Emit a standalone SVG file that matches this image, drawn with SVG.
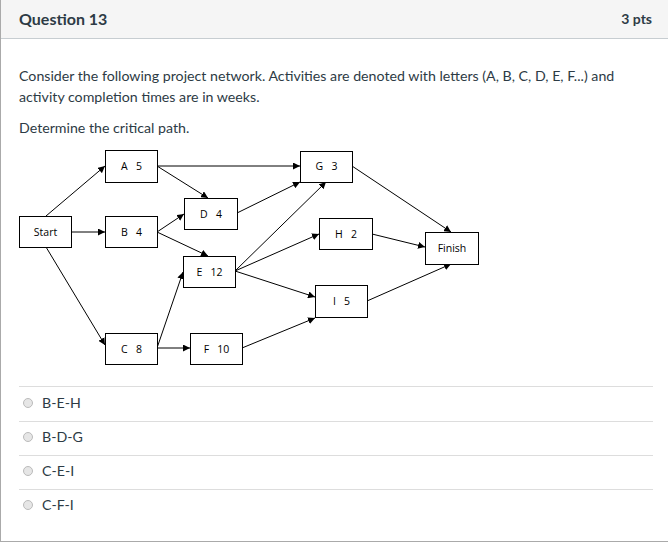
<svg xmlns="http://www.w3.org/2000/svg" width="668" height="542" viewBox="0 0 668 542">
<defs>
<marker id="ah" viewBox="0 0 10 10" refX="10" refY="5" markerWidth="7" markerHeight="7" markerUnits="userSpaceOnUse" orient="auto"><path d="M0,0 L10,5 L0,10 z" fill="#000"/></marker>
</defs>
<style>
.hd{font-family:Lato,"Liberation Sans",sans-serif;fill:#2d3b45}
.tx{font-family:Lato,"Liberation Sans",sans-serif;font-size:14.2px;fill:#2d3b45}
.nb{fill:#fff;stroke:#000;stroke-width:1}
.nt{font-family:"Open Sans","Liberation Sans",sans-serif;font-size:10.5px;fill:#000;text-anchor:middle;white-space:pre}
.ed{stroke:#000;stroke-width:1;fill:none;marker-end:url(#ah)}
.sep{stroke:#ddd;stroke-width:1}
.rd{fill:#e6e6e6;stroke:#bbb;stroke-width:1}
</style>
<rect x="0" y="0" width="668" height="542" fill="#fff"/>
<rect x="0.5" y="0" width="668" height="38" fill="#f5f5f5"/>
<line x1="0" y1="38.5" x2="668" y2="38.5" stroke="#c7cdd1"/>
<line x1="0.5" y1="0" x2="0.5" y2="542" stroke="#aaa"/>
<line x1="0" y1="541.5" x2="668" y2="541.5" stroke="#aaa"/>
<text class="hd" x="19" y="25" font-size="16" font-weight="bold">Question 13</text>
<text class="hd" x="652" y="24" font-size="14" font-weight="bold" text-anchor="end">3 pts</text>
<text class="tx" x="19" y="81">Consider the following project network. Activities are denoted with letters (A, B, C, D, E, F...) and</text>
<text class="tx" x="19" y="102">activity completion times are in weeks.</text>
<text class="tx" x="19" y="133">Determine the critical path.</text>
<g id="connectors">
<line class="ed" x1="46" y1="216" x2="105" y2="166"/>
<line class="ed" x1="71" y1="232" x2="105" y2="232"/>
<line class="ed" x1="46" y1="247" x2="105" y2="345"/>
<line class="ed" x1="157" y1="166" x2="300" y2="166"/>
<line class="ed" x1="157" y1="166" x2="208" y2="198"/>
<line class="ed" x1="157" y1="232" x2="184" y2="214"/>
<line class="ed" x1="157" y1="232" x2="208" y2="256"/>
<line class="ed" x1="237" y1="213" x2="300" y2="182"/>
<line class="ed" x1="235" y1="271" x2="326" y2="182"/>
<line class="ed" x1="235" y1="271" x2="319" y2="234"/>
<line class="ed" x1="235" y1="271" x2="315" y2="297"/>
<line class="ed" x1="157" y1="348" x2="183" y2="272"/>
<line class="ed" x1="157" y1="348" x2="190" y2="348"/>
<line class="ed" x1="242" y1="348" x2="315" y2="318"/>
<line class="ed" x1="352" y1="166" x2="451" y2="232"/>
<line class="ed" x1="372" y1="234" x2="425" y2="247"/>
<line class="ed" x1="367" y1="301" x2="451" y2="264"/>
</g>
<g id="start"><rect class="nb" x="19.5" y="216.5" width="52" height="31"/><text class="nt" x="45.5" y="236">Start</text></g>
<g id="A"><rect class="nb" x="105.5" y="150.5" width="52" height="32"/><text class="nt" x="131.5" y="170" xml:space="preserve">A   5</text></g>
<g id="B"><rect class="nb" x="105.5" y="216.5" width="52" height="31"/><text class="nt" x="131.5" y="236" xml:space="preserve">B   4</text></g>
<g id="C"><rect class="nb" x="105.5" y="333.5" width="52" height="31"/><text class="nt" x="131.5" y="353" xml:space="preserve">C   8</text></g>
<g id="D"><rect class="nb" x="184.5" y="198.5" width="53" height="31"/><text class="nt" x="211" y="218" xml:space="preserve">D   4</text></g>
<g id="E"><rect class="nb" x="183.5" y="256.5" width="52" height="31"/><text class="nt" x="209.5" y="276" xml:space="preserve">E   12</text></g>
<g id="F"><rect class="nb" x="190.5" y="333.5" width="52" height="31"/><text class="nt" x="216.5" y="353" xml:space="preserve">F   10</text></g>
<g id="G"><rect class="nb" x="300.5" y="151.5" width="52" height="31"/><text class="nt" x="326.5" y="170" xml:space="preserve">G   3</text></g>
<g id="H"><rect class="nb" x="319.5" y="218.5" width="53" height="31"/><text class="nt" x="346" y="238" xml:space="preserve">H   2</text></g>
<g id="I"><rect class="nb" x="315.5" y="285.5" width="52" height="32"/><text class="nt" x="341.5" y="305" xml:space="preserve">I   5</text></g>
<g id="finish"><rect class="nb" x="425.5" y="232.5" width="53" height="32"/><text class="nt" x="452" y="252">Finish</text></g>
<line class="sep" x1="19" y1="386.5" x2="653" y2="386.5"/>
<line class="sep" x1="19" y1="421.5" x2="653" y2="421.5"/>
<line class="sep" x1="19" y1="455.5" x2="653" y2="455.5"/>
<line class="sep" x1="19" y1="489.5" x2="653" y2="489.5"/>
<circle class="rd" cx="28" cy="403" r="4.5"/>
<circle class="rd" cx="28" cy="437" r="4.5"/>
<circle class="rd" cx="28" cy="471" r="4.5"/>
<circle class="rd" cx="28" cy="505" r="4.5"/>
<text class="tx" x="42" y="408" font-size="13">B-E-H</text>
<text class="tx" x="42" y="442" font-size="13">B-D-G</text>
<text class="tx" x="42" y="476" font-size="13">C-E-I</text>
<text class="tx" x="42" y="510" font-size="13">C-F-I</text>
</svg>
